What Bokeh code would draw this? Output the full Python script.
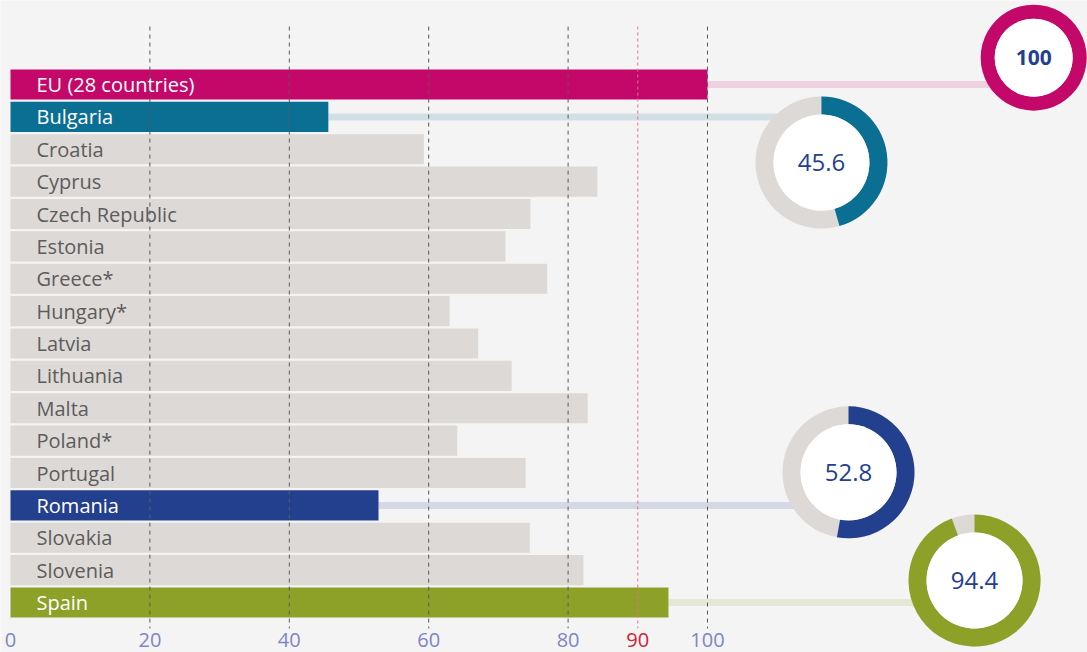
import math
from bokeh.plotting import figure
from bokeh.models import Range1d, FixedTicker, Label
from bokeh.core.properties import value
from bokeh.embed import file_html
from bokeh.resources import INLINE

# ---------------- data ----------------
countries = ["EU (28 countries)", "Bulgaria", "Croatia", "Cyprus", "Czech Republic",
             "Estonia", "Greece*", "Hungary*", "Latvia", "Lithuania", "Malta",
             "Poland*", "Portugal", "Romania", "Slovakia", "Slovenia", "Spain"]
values = [100, 45.6, 59.3, 84.2, 74.6, 71.0, 77.0, 63.0, 67.1, 71.9, 82.8,
          64.1, 73.9, 52.8, 74.5, 82.2, 94.4]
highlighted = ["EU (28 countries)", "Bulgaria", "Romania", "Spain"]
highlight_colors = ["#c4086a", "#0b6f94", "#23408e", "#8da128"]
connector_colors = ["#eed0df", "#d3dfe5", "#d5d9e5", "#e5e8d5"]
grid_ticks = [20, 40, 60, 80, 100]
axis_ticks = [0, 20, 40, 60, 80, 100]
target_tick = 90

# ---------------- layout ----------------
n = len(countries)
ys = [n - 1 - i for i in range(n)]
X0, X1 = -1.435, 154.52
Y0, Y1 = -1.544, 18.595
GRID_TOP, GRID_BOTTOM = 17.79, -0.80
donut_x = [146.8, 116.35, 120.23, 138.31]
donut_y = [16.83, 13.59, 4.02, 0.68]
donut_outer = [53, 66, 66, 66]
donut_inner = [39, 48, 48, 48]
LABEL_X = 3.73
GREY = "#dcd9d6"
BG = "#f4f4f4"
FONT = "Open Sans"

p = figure(width=1087, height=652, x_range=Range1d(X0, X1), y_range=Range1d(Y0, Y1),
           output_backend="svg", toolbar_location=None, y_axis_location=None,
           background_fill_color=BG, border_fill_color=BG, outline_line_color=None,
           min_border_left=0, min_border_right=0, min_border_top=0, min_border_bottom=0)
p.grid.visible = False

val_of = dict(zip(countries, values))
y_of = dict(zip(countries, ys))

# connectors
p.segment(x0=[val_of[c] for c in highlighted], y0=[y_of[c] for c in highlighted],
          x1=donut_x, y1=[y_of[c] for c in highlighted],
          line_color=connector_colors, line_width=7)

# bars
bar_colors = [highlight_colors[highlighted.index(c)] if c in highlighted else GREY for c in countries]
p.hbar(y=ys, left=0, right=values, height=0.93, fill_color=bar_colors, line_color=None)

# grid lines
p.segment(x0=grid_ticks, y0=[GRID_TOP] * len(grid_ticks), x1=grid_ticks, y1=[GRID_BOTTOM] * len(grid_ticks),
          line_color="#5a5a5a", line_width=1, line_dash="4 4")
p.segment(x0=[target_tick], y0=[GRID_TOP], x1=[target_tick], y1=[GRID_BOTTOM],
          line_color="#d8788a", line_width=1, line_dash="3 3")

# bar labels
text_colors = ["#ffffff" if c in highlighted else "#5c5c5c" for c in countries]
p.text(x=[LABEL_X] * n, y=ys, text=countries, text_color=text_colors,
       text_font=value(FONT), text_font_size="20px", text_baseline="middle", text_align="left")

# donuts
p.annulus(x=donut_x, y=donut_y, inner_radius=donut_inner, outer_radius=donut_outer,
          inner_radius_units="screen", outer_radius_units="screen",
          fill_color=GREY, line_color=None)
hv = [min(val_of[c], 99.999) for c in highlighted]
p.annular_wedge(x=donut_x, y=donut_y, inner_radius=donut_inner, outer_radius=donut_outer,
                inner_radius_units="screen", outer_radius_units="screen",
                start_angle=[math.pi / 2] * 4,
                end_angle=[math.pi / 2 - 2 * math.pi * v / 100 for v in hv],
                direction="clock", fill_color=highlight_colors, line_color=None)
p.scatter(x=donut_x, y=donut_y, size=[2 * r for r in donut_inner], marker="circle",
          fill_color="white", line_color=None)
labels = [("%g" % val_of[c]) for c in highlighted]
p.text(x=donut_x[:1], y=donut_y[:1], text=labels[:1], text_color="#253f8f",
       text_font=value(FONT), text_font_size="21px", text_font_style="bold",
       text_align="center", text_baseline="middle")
p.text(x=donut_x[1:], y=donut_y[1:], text=labels[1:], text_color="#253f8f",
       text_font=value(FONT), text_font_size="24px",
       text_align="center", text_baseline="middle")

# axis (labels pulled up into the plot area)
ax = p.xaxis[0]
ax.ticker = FixedTicker(ticks=axis_ticks)
ax.axis_line_color = None
ax.major_tick_line_color = None
ax.minor_tick_line_color = None
ax.major_tick_out = 0
ax.major_tick_in = 0
ax.major_label_standoff = -20
ax.major_label_text_color = "#7d86c4"
ax.major_label_text_font = FONT
ax.major_label_text_font_size = "20px"

p.add_layout(Label(x=target_tick, y=GRID_BOTTOM, y_offset=-5, text=str(target_tick),
                   text_color="#d0213a", text_font=FONT, text_font_size="20px",
                   text_align="center", text_baseline="top"))

open("out.html", "w").write(file_html(p, INLINE))
